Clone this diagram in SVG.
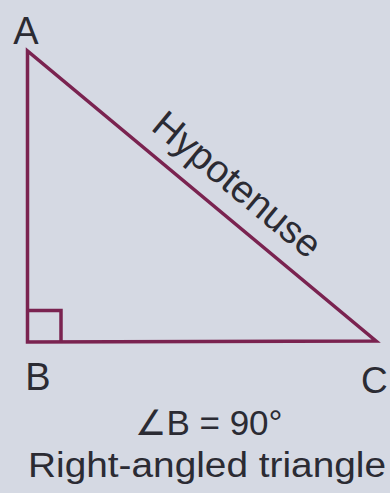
<svg xmlns="http://www.w3.org/2000/svg" width="390" height="493" viewBox="0 0 390 493">
<style>
.ln{fill:none;stroke:#7a2350;stroke-width:3.5;stroke-linejoin:miter}
.lbl{font-family:"Liberation Sans",Arial,sans-serif;fill:#2b2b33}
</style>
<rect x="0" y="0" width="390" height="493" fill="#d5d9e3"/>
<g id="connectors">
<path class="ln" d="M27.5,51 L27.5,342 L376,341 Z"/>
<path class="ln" d="M27.5,310.5 L61,310.5 L61,342"/>
</g>
<g id="A"><text class="lbl" x="26" y="44" font-size="38" text-anchor="middle">A</text></g>
<g id="B"><text class="lbl" x="38" y="390" font-size="38" text-anchor="middle">B</text></g>
<g id="C"><text class="lbl" x="361" y="393" font-size="37">C</text></g>
<g id="hyp"><text class="lbl" font-size="38.5" text-anchor="middle" transform="translate(229,194.5) rotate(39.6)">Hypotenuse</text></g>
<g id="caption">
<text class="lbl" x="209" y="435" font-size="35" text-anchor="middle">∠B = 90°</text>
<text class="lbl" x="207" y="477" font-size="35" text-anchor="middle" textLength="358" lengthAdjust="spacingAndGlyphs">Right-angled triangle</text>
</g>
</svg>
